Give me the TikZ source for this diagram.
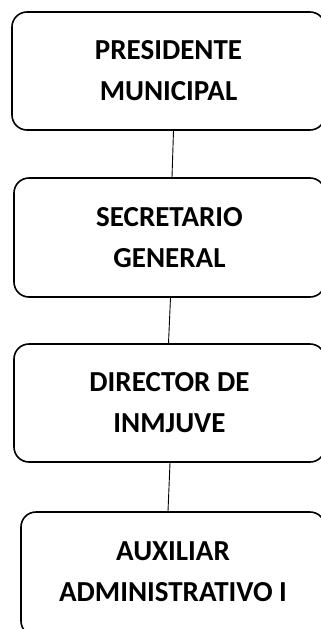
\documentclass[tikz,border=0pt]{standalone}
\usepackage{fontspec}
\setmainfont{Carlito}
\usetikzlibrary{positioning}

\tikzset{
	orgbox/.style={draw=black, line width=1.6pt, rounded corners=15pt, align=center, inner sep=0pt,
		font=\fontsize{29}{41}\selectfont\bfseries},
	orgline/.style={draw=black, line width=0.9pt}
}

\begin{document}
\begin{tikzpicture}[x=1pt,y=1pt,yscale=-1,xscale=1]
		% Set diagram area to 321 x 629
		\useasboundingbox (0,0) rectangle (321,629);

		% Draw the boxes (right side and last bottom run off the page)
		\node[orgbox, minimum width=313pt, minimum height=118pt] (pres) at (168.5,71) {PRESIDENTE\\MUNICIPAL};
		\node[orgbox, minimum width=311pt, minimum height=119pt] (secr) at (169.5,237.5) {SECRETARIO\\GENERAL};
		\node[orgbox, minimum width=311pt, minimum height=118pt] (dire) at (169.5,403) {DIRECTOR DE\\INMJUVE};
		\node[orgbox, minimum width=304pt, minimum height=124pt, text depth=4pt] (auxi) at (173,574) {AUXILIAR\\ADMINISTRATIVO I};

		% Draw the vertical segments between the boxes
		\draw[orgline] ([xshift=5pt]pres.south) -- ([xshift=2.5pt]secr.north);
		\draw[orgline] ([xshift=1pt]secr.south) -- ([xshift=-1pt]dire.north);
		\draw[orgline] ([xshift=0.5pt]dire.south) -- ([xshift=-5pt]auxi.north);
	\end{tikzpicture}
\end{document}
